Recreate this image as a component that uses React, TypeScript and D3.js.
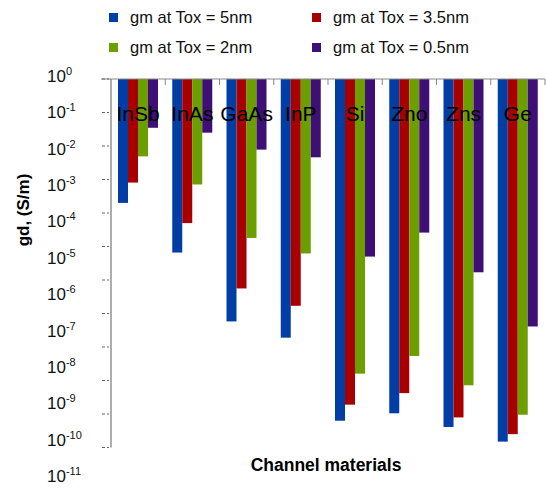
import React from 'react'
import * as d3 from 'd3'

// channel materials on the x axis
const categories = ['InSb', 'InAs', 'GaAs', 'InP', 'Si', 'Zno', 'Zns', 'Ge']
const seriesNames = ['gm at Tox = 5nm', 'gm at Tox = 3.5nm', 'gm at Tox = 2nm', 'gm at Tox = 0.5nm']
const colors = ['#003da5', '#a80000', '#6b9f00', '#3e0f74']

// gd values (S/m)
const tox5 = [2.0e-4, 6.6e-6, 5.8e-8, 1.9e-8, 6.3e-11, 1.05e-10, 4.1e-11, 1.5e-11]
const tox35 = [8.1e-4, 5.0e-5, 5.6e-7, 1.7e-7, 1.9e-10, 4.2e-10, 7.9e-11, 2.5e-11]
const tox2 = [4.9e-3, 7.1e-4, 1.8e-5, 6.2e-6, 1.6e-9, 5.4e-9, 7.2e-10, 9.5e-11]
const tox05 = [3.5e-2, 2.5e-2, 7.8e-3, 4.6e-3, 5.0e-6, 2.6e-5, 1.7e-6, 4.1e-8]
const series = [tox5, tox35, tox2, tox05]

// exponent labels shown beside the axis
const tickExponents = [0, -1, -2, -3, -4, -5, -6, -7, -8, -9, -10, -11]

const W = 546, H = 489
const font = '"Liberation Sans", Arial, sans-serif'

export default function App() {
  const x = d3.scaleBand().domain(categories).range([111, 545])
  const x1 = d3.scaleBand().domain(seriesNames).range([7, 47])
  const y = d3.scaleLog().domain([1, 1e-11]).range([79, 447.5])
  // the pasted tick labels don't sit exactly on the ticks
  const yLabel = d3.scaleLog().domain([1, 1e-11]).range([82, 482])

  return (
    <svg width={W} height={H} style={{position: 'absolute', left: 0, top: 0, background: '#fff'}} fontFamily={font}>
      {/* legend */}
      {seriesNames.map((s, i) => {
        const lx = i % 2 === 0 ? 109 : 312
        const ly = i < 2 ? 13 : 43
        return (
          <g key={s}>
            <rect x={lx} y={ly} width={9} height={9} fill={colors[i]} />
            <text x={lx + 21} y={ly + 10} fontSize={16.5} fill="#111">{s}</text>
          </g>
        )
      })}

      {/* bars hang down from 10^0 */}
      {series.map((vals, si) =>
        vals.map((v, ci) => (
          <rect key={si + '-' + ci}
            x={x(categories[ci])! + x1(seriesNames[si])!}
            y={y(1)}
            width={x1.bandwidth()}
            height={y(v) - y(1)}
            fill={colors[si]} />
        ))
      )}

      {/* axes */}
      <line x1={101} x2={545} y1={y(1)} y2={y(1)} stroke="#888" strokeWidth={1.2} />
      <line x1={111} x2={111} y1={y(1)} y2={y(1e-11)} stroke="#777" strokeWidth={1.2} />
      {categories.map(c => (
        <line key={c} x1={x(c)! + x.bandwidth()} x2={x(c)! + x.bandwidth()} y1={y(1)} y2={y(1) + 6} stroke="#888" />
      ))}
      {tickExponents.map(e => (
        <line key={e} x1={102} x2={109} y1={y(Math.pow(10, e))} y2={y(Math.pow(10, e))} stroke="#666" strokeDasharray="3,2" />
      ))}
      {tickExponents.map(e => (
        <text key={e} x={47} y={yLabel(Math.pow(10, e))} fontSize={17} fill="#111">
          10<tspan dy={-7} fontSize={11}>{e}</tspan>
        </text>
      ))}

      {/* category labels sit over the bars */}
      {categories.map(c => (
        <text key={c} x={x(c)! + x.bandwidth() / 2} y={121} fontSize={21} textAnchor="middle" fill="#000">{c}</text>
      ))}

      <text x={326} y={471} fontSize={17.5} fontWeight="bold" textAnchor="middle" fill="#000">Channel materials</text>
      <text transform="translate(29,210) rotate(-90)" fontSize={17} fontWeight="bold" textAnchor="middle" fill="#000">gd, (S/m)</text>
    </svg>
  )
}
